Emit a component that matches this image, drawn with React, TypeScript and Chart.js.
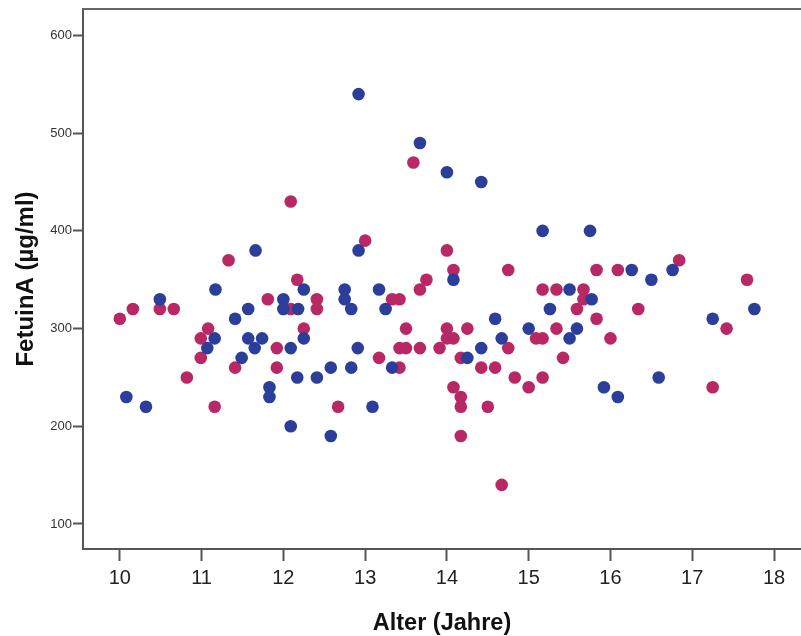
import React, { useEffect, useRef } from "react";
import { Chart, registerables } from "chart.js";

Chart.register(...registerables);

const blueAge = [10.08, 10.32, 10.49, 11.07, 11.16, 11.17, 11.41, 11.49, 11.57, 11.57, 11.65, 11.66, 11.74, 11.83, 11.83, 12.0, 12.0, 12.09, 12.09, 12.18, 12.17, 12.25, 12.25, 12.41, 12.58, 12.58, 12.75, 12.75, 12.83, 12.83, 12.91, 12.92, 12.92, 13.09, 13.17, 13.25, 13.33, 13.67, 14.0, 14.08, 14.25, 14.42, 14.42, 14.59, 14.67, 15.0, 15.17, 15.26, 15.5, 15.5, 15.59, 15.75, 15.77, 15.92, 16.09, 16.26, 16.5, 16.59, 16.76, 17.25, 17.76];
const blueValue = [230, 220, 330, 280, 290, 340, 310, 270, 320, 290, 280, 380, 290, 240, 230, 330, 320, 280, 200, 320, 250, 340, 290, 250, 260, 190, 340, 330, 320, 260, 280, 380, 540, 220, 340, 320, 260, 490, 460, 350, 270, 450, 280, 310, 290, 300, 400, 320, 340, 290, 300, 400, 330, 240, 230, 360, 350, 250, 360, 310, 320];

const magentaAge = [10.0, 10.16, 10.49, 10.66, 10.82, 10.99, 10.99, 11.08, 11.16, 11.33, 11.41, 11.81, 11.92, 11.92, 12.09, 12.09, 12.17, 12.25, 12.41, 12.41, 12.67, 13.0, 13.17, 13.33, 13.42, 13.42, 13.42, 13.5, 13.5, 13.59, 13.67, 13.67, 13.75, 13.91, 14.0, 14.0, 14.0, 14.08, 14.08, 14.08, 14.17, 14.17, 14.17, 14.17, 14.25, 14.42, 14.5, 14.59, 14.67, 14.75, 14.75, 14.83, 15.0, 15.09, 15.17, 15.17, 15.17, 15.34, 15.34, 15.42, 15.59, 15.67, 15.67, 15.83, 15.83, 16.0, 16.09, 16.34, 16.84, 17.25, 17.42, 17.67];
const magentaValue = [310, 320, 320, 320, 250, 290, 270, 300, 220, 370, 260, 330, 280, 260, 430, 320, 350, 300, 330, 320, 220, 390, 270, 330, 330, 280, 260, 300, 280, 470, 340, 280, 350, 280, 380, 300, 290, 360, 290, 240, 270, 230, 220, 190, 300, 260, 220, 260, 140, 360, 280, 250, 240, 290, 340, 290, 250, 340, 300, 270, 320, 340, 330, 360, 310, 290, 360, 320, 370, 240, 300, 350];

const xTicks = [10, 11, 12, 13, 14, 15, 16, 17, 18];
const yTicks = [100, 200, 300, 400, 500, 600];

const xTitle = "Alter (Jahre)";
const yTitle = "FetuinA (µg/ml)";

const toPoints = (xs: number[], ys: number[]) => xs.map((x, i) => ({ x, y: ys[i] }));

const frame = {
  id: "frame",
  afterDraw(chart: any) {
    const { ctx, chartArea } = chart;
    ctx.save();
    ctx.strokeStyle = "#666";
    ctx.lineWidth = 2;
    ctx.beginPath();
    ctx.moveTo(chartArea.left - 1, chartArea.top);
    ctx.lineTo(chartArea.right, chartArea.top);
    ctx.stroke();
    ctx.restore();
  },
};

export default function App() {
  const ref = useRef<HTMLCanvasElement | null>(null);
  useEffect(() => {
    if (!ref.current) return;
    const font = "'Liberation Sans', Arial, sans-serif";
    const chart = new Chart(ref.current, {
      type: "scatter",
      data: {
        datasets: [
          {
            label: "blau",
            data: toPoints(blueAge, blueValue),
            backgroundColor: "rgb(42,62,154)",
            borderWidth: 0,
            pointRadius: 6.3,
          },
          {
            label: "magenta",
            data: toPoints(magentaAge, magentaValue),
            backgroundColor: "rgb(184,40,100)",
            borderWidth: 0,
            pointRadius: 6.3,
          },
        ],
      },
      options: {
        responsive: false,
        animation: false,
        layout: { autoPadding: false, padding: { top: 9, right: 0, bottom: 0, left: 0 } },
        plugins: { legend: { display: false }, tooltip: { enabled: false } },
        scales: {
          x: {
            type: "linear",
            min: 9.55,
            max: 18.33,
            afterFit: (s: any) => {
              s.height = 87;
              s.paddingLeft = 0;
              s.paddingRight = 0;
            },
            afterBuildTicks: (s: any) => {
              s.ticks = xTicks.map((v) => ({ value: v }));
            },
            grid: { drawOnChartArea: false, drawTicks: true, tickLength: 12, color: "#555", tickWidth: 2 },
            border: { display: true, color: "#555", width: 2 },
            ticks: {
              padding: 5,
              color: "#222",
              font: { family: font, size: 20 },
              autoSkip: false,
              maxRotation: 0,
            },
            title: {
              display: true,
              text: xTitle,
              color: "#111",
              font: { family: font, size: 23.5, weight: "bold" },
              padding: { top: 0, bottom: -2 },
            },
          },
          y: {
            type: "linear",
            min: 74.4,
            max: 627.1,
            afterFit: (s: any) => {
              s.width = 83;
            },
            afterBuildTicks: (s: any) => {
              s.ticks = yTicks.map((v) => ({ value: v }));
            },
            grid: { drawOnChartArea: false, drawTicks: true, tickLength: 10, color: "#555", tickWidth: 2 },
            border: { display: true, color: "#555", width: 2 },
            ticks: {
              padding: 1,
              color: "#333",
              font: { family: font, size: 13 },
            },
            title: {
              display: true,
              text: yTitle,
              color: "#111",
              font: { family: font, size: 24, weight: "bold" },
              padding: { top: 12, bottom: 0 },
            },
          },
        },
      },
      plugins: [frame],
    });
    return () => chart.destroy();
  }, []);
  return (
    <div style={{ position: "absolute", left: 0, top: 0, width: 801, height: 636, background: "#fff", overflow: "hidden" }}>
      <canvas ref={ref} width={801} height={636} style={{ display: "block" }} />
    </div>
  );
}
